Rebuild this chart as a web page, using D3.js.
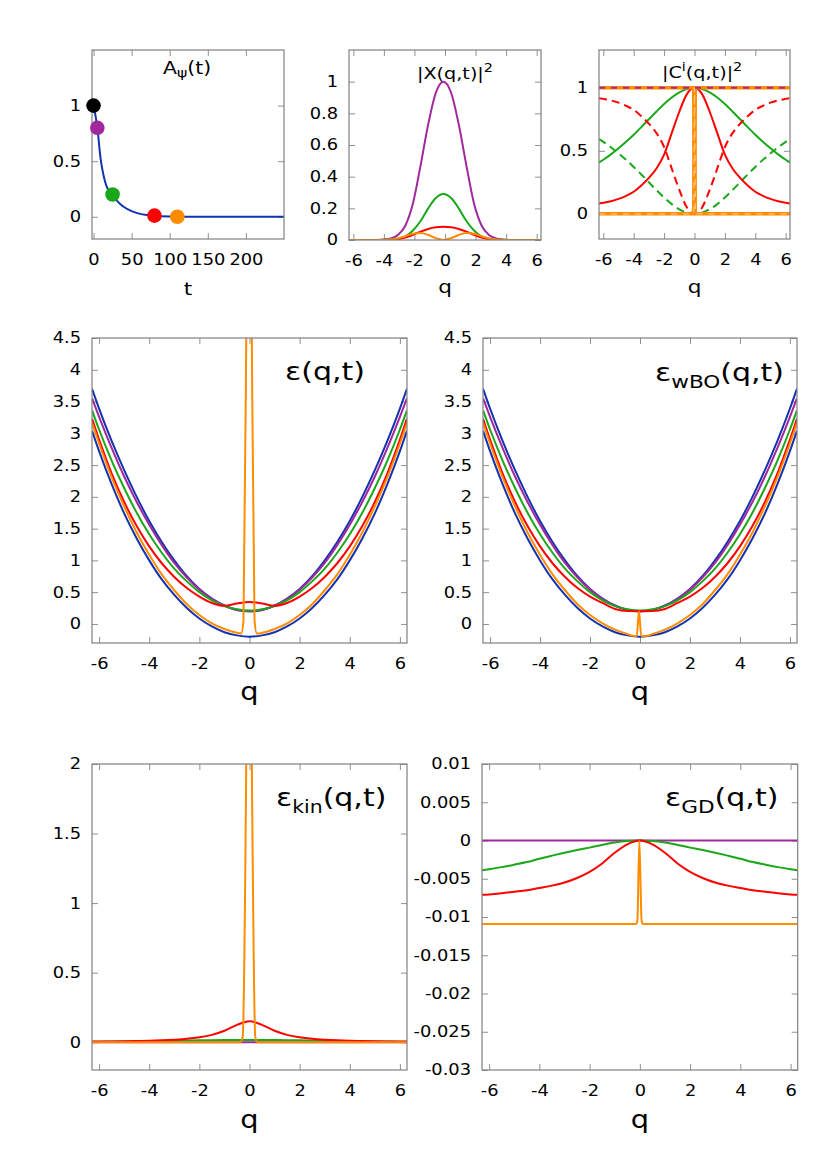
<!DOCTYPE html>
<html><head><meta charset="utf-8">
<script src="https://cdn.jsdelivr.net/npm/d3@7"></script>
<style>body{margin:0;background:#fff} text{font-family:"DejaVu Sans",sans-serif}</style>
</head><body><svg id="c" width="830" height="1153" xmlns="http://www.w3.org/2000/svg"></svg>
<script>
// ---------------- DATA ----------------
// Panel 1: A_psi(t)
const tA = [0,2,4,6,8,10,12,15,18,21,25,30,35,40,50,60,70,80,100,130,160,200,250];
const Apsi = [1,0.93,0.85,0.74,0.6,0.49,0.41,0.32,0.26,0.225,0.19,0.15,0.115,0.088,0.05,0.028,0.016,0.009,0.003,0.0005,0,0,0];
const markT = [0,5,25,80,110];
const markA = [1,0.8,0.2,0.01,0.0];
const markColors = ["black","purple","green","red","orange"];
const tTicks = [0,50,100,150,200];

// Panel 2: |X(q,t)|^2
const qX = [-6.28,-5.1,-4.6,-4.1,-3.6,-3.1,-2.6,-2.1,-1.6,-1.1,-0.6,-0.1,0.4,0.9,1.4,1.9,2.4,2.9,3.4,3.9,4.4,4.9,6.28];
const X_purple = [0,0,0.0005,0.002,0.008,0.03,0.09,0.23,0.47,0.73,0.93,1,0.93,0.73,0.47,0.23,0.09,0.03,0.008,0.002,0.0005,0,0];
const X_green  = [0,0,0,0.001,0.002,0.007,0.022,0.06,0.12,0.2,0.265,0.29,0.265,0.2,0.12,0.06,0.022,0.007,0.002,0.001,0,0,0];
const X_red    = [0,0,0,0,0.001,0.005,0.015,0.033,0.053,0.07,0.08,0.083,0.08,0.07,0.053,0.033,0.015,0.005,0.001,0,0,0,0];
const X_orange = [0,0,0,0,0.003,0.01,0.024,0.04,0.045,0.032,0.012,0,0.012,0.032,0.045,0.04,0.024,0.01,0.003,0,0,0,0];

// common q grid
const Q = [-6.28,-6,-5.5,-5,-4.5,-4,-3.5,-3,-2.5,-2,-1.5,-1,-0.5,0,0.5,1,1.5,2,2.5,3,3.5,4,4.5,5,5.5,6,6.28];

// Panel 3: |C^i(q,t)|^2
const C_greenSolid  = [0.407,0.429,0.472,0.520,0.572,0.628,0.688,0.750,0.812,0.871,0.923,0.964,0.991,1,0.991,0.964,0.923,0.871,0.812,0.750,0.688,0.628,0.572,0.520,0.472,0.429,0.407];
const C_greenDashed = [0.593,0.571,0.528,0.480,0.428,0.372,0.312,0.250,0.188,0.129,0.077,0.036,0.009,0,0.009,0.036,0.077,0.129,0.188,0.250,0.312,0.372,0.428,0.480,0.528,0.571,0.593];
const C_redSolid    = [0.082,0.088,0.1,0.118,0.143,0.175,0.225,0.285,0.36,0.47,0.64,0.81,0.95,1,0.95,0.81,0.64,0.47,0.36,0.285,0.225,0.175,0.143,0.118,0.1,0.088,0.082];
const C_redDashed   = [0.918,0.912,0.9,0.882,0.857,0.825,0.775,0.715,0.64,0.53,0.36,0.19,0.05,0,0.05,0.19,0.36,0.53,0.64,0.715,0.775,0.825,0.857,0.882,0.9,0.912,0.918];
const qC_edge = [-6.28,6.28];
const C_purpleSolid = [0,0];
const C_purpleDashed = [1,1];
const qC_orange = [-6.28,-0.05,0,0.05,6.28];
const C_orangeSolid = [1,1,0,1,1];
const C_orangeDashed = [0,0,1,0,0];

// Panel 4/5: epsilon(q,t), epsilon_wBO(q,t)
const E_blueUpper = [3.70,3.39,2.88,2.42,2.00,1.62,1.29,1.00,0.75,0.55,0.40,0.29,0.22,0.20,0.22,0.29,0.40,0.55,0.75,1.00,1.29,1.62,2.00,2.42,2.88,3.39,3.70];
const E_blueLower = [3.04,2.72,2.20,1.74,1.345,1.00,0.70,0.456,0.25,0.085,-0.04,-0.13,-0.18,-0.20,-0.18,-0.13,-0.04,0.085,0.25,0.456,0.70,1.00,1.345,1.74,2.20,2.72,3.04];
const E_purple = [3.55,3.26,2.77,2.32,1.92,1.56,1.24,0.96,0.73,0.54,0.39,0.285,0.22,0.20,0.22,0.285,0.39,0.54,0.73,0.96,1.24,1.56,1.92,2.32,2.77,3.26,3.55];
const E_green  = [3.36,3.06,2.57,2.14,1.75,1.41,1.12,0.87,0.67,0.50,0.37,0.28,0.23,0.21,0.23,0.28,0.37,0.50,0.67,0.87,1.12,1.41,1.75,2.14,2.57,3.06,3.36];
const E_red    = [3.23,2.90,2.37,1.92,1.54,1.22,0.955,0.74,0.565,0.43,0.33,0.285,0.32,0.345,0.32,0.285,0.33,0.43,0.565,0.74,0.955,1.22,1.54,1.92,2.37,2.90,3.23];
const qE_orange = [-6.28,-6,-5.5,-5,-4.5,-4,-3.5,-3,-2.5,-2,-1.5,-1,-0.5,-0.33,-0.24,-0.13,-0.02,0.093,0.2,0.29,0.5,1,1.5,2,2.5,3,3.5,4,4.5,5,5.5,6,6.28];
const E_orange = [3.16,2.84,2.31,1.85,1.44,1.09,0.78,0.53,0.31,0.14,0.01,-0.08,-0.14,-0.15,0.06,4.5,12,4.5,0.06,-0.15,-0.14,-0.08,0.01,0.14,0.31,0.53,0.78,1.09,1.44,1.85,2.31,2.84,3.16];
const W_red    = [3.23,2.90,2.37,1.92,1.54,1.22,0.955,0.74,0.565,0.43,0.33,0.235,0.202,0.20,0.202,0.235,0.33,0.43,0.565,0.74,0.955,1.22,1.54,1.92,2.37,2.90,3.23];
const qW_orange = [-6.28,-6,-5.5,-5,-4.5,-4,-3.5,-3,-2.5,-2,-1.5,-1,-0.5,-0.3,-0.13,-0.04,0.05,0.3,0.5,1,1.5,2,2.5,3,3.5,4,4.5,5,5.5,6,6.28];
const W_orange = [3.16,2.84,2.31,1.85,1.44,1.09,0.78,0.53,0.31,0.14,0.01,-0.09,-0.16,-0.185,-0.19,0.2,-0.19,-0.185,-0.16,-0.09,0.01,0.14,0.31,0.53,0.78,1.09,1.44,1.85,2.31,2.84,3.16];

// Panel 6: epsilon_kin
const K_red   = [0.0045,0.0049,0.0058,0.0069,0.0084,0.0105,0.0134,0.0179,0.0243,0.0349,0.0526,0.082,0.124,0.15,0.124,0.082,0.0526,0.0349,0.0243,0.0179,0.0134,0.0105,0.0084,0.0069,0.0058,0.0049,0.0045];
const K_green = [0.0035,0.004,0.0045,0.005,0.006,0.007,0.0085,0.01,0.0115,0.013,0.014,0.015,0.0158,0.016,0.0158,0.015,0.014,0.013,0.0115,0.01,0.0085,0.007,0.006,0.005,0.0045,0.004,0.0035];
const K_purple = [0,0];
const qK_orange = [-6.28,-0.37,-0.27,-0.13,-0.02,0.093,0.23,0.32,6.28];
const K_orange = [0,0,0.04,2.0,5,2.0,0.04,0,0];

// Panel 7: epsilon_GD
const G_purple = [0,0];
const G_green = [-0.0039,-0.00376,-0.00348,-0.00316,-0.00282,-0.00238,-0.00198,-0.0016,-0.00125,-0.00093,-0.00058,-0.00027,-0.00007,0,-0.00007,-0.00027,-0.00058,-0.00093,-0.00125,-0.0016,-0.00198,-0.00238,-0.00282,-0.00316,-0.00348,-0.00376,-0.0039];
const G_red = [-0.0071,-0.00705,-0.0069,-0.0067,-0.0065,-0.0062,-0.0059,-0.0055,-0.0049,-0.0041,-0.003,-0.0016,-0.0005,0,-0.0005,-0.0016,-0.003,-0.0041,-0.0049,-0.0055,-0.0059,-0.0062,-0.0065,-0.0067,-0.0069,-0.00705,-0.0071];
const qG_orange = [-6.28,-0.15,-0.1,-0.02,0.07,0.12,6.28];
const G_orange = [-0.0109,-0.0109,-0.0105,0,-0.0105,-0.0109,-0.0109];

// tick values
const qTicks = [-6,-4,-2,0,2,4,6];
const yT1 = [0,0.5,1];
const yT2 = [0,0.2,0.4,0.6,0.8,1];
const yT3 = [0,0.5,1];
const yT45 = [0,0.5,1,1.5,2,2.5,3,3.5,4,4.5];
const yT6 = [0,0.5,1,1.5,2];
const yT7 = [-0.03,-0.025,-0.02,-0.015,-0.01,-0.005,0,0.005,0.01];

// ---------------- DRAWING ----------------
const COL = {blue:"#1432b0", purple:"#a0289c", green:"#1aa81a", red:"#ff0000", orange:"#ff8c00", black:"#000000"};
const svg = d3.select("#c");
let cid = 0;
const fmt = d => String(d);

function stretch(sel, sx){
  sel.each(function(){
    const t = d3.select(this);
    const x = +(t.attr("x") || 0);
    t.attr("x", 0).attr("transform", `translate(${x},0) scale(${sx},1)`);
  });
}

function panel(c){
  const g = svg.append("g");
  const x = d3.scaleLinear().domain(c.xd).range([c.l, c.r]);
  const y = d3.scaleLinear().domain(c.yd).range([c.b, c.t]);
  const id = "clip" + (cid++);
  svg.append("clipPath").attr("id", id).append("rect")
    .attr("x", c.l).attr("y", c.t).attr("width", c.r - c.l).attr("height", c.b - c.t);
  const axes = [
    g.append("g").attr("transform", `translate(0,${c.b})`).call(d3.axisBottom(x).tickValues(c.xt).tickSize(-6).tickPadding(14.5).tickFormat(fmt)),
    g.append("g").attr("transform", `translate(0,${c.t})`).call(d3.axisTop(x).tickValues(c.xt).tickSize(-6).tickFormat("")),
    g.append("g").attr("transform", `translate(${c.l},0)`).call(d3.axisLeft(y).tickValues(c.yt).tickSize(-6).tickPadding(11).tickFormat(fmt)),
    g.append("g").attr("transform", `translate(${c.r},0)`).call(d3.axisRight(y).tickValues(c.yt).tickSize(-6).tickFormat(""))
  ];
  axes.forEach(a => {
    a.attr("font-family", "DejaVu Sans").attr("font-size", 15.5);
    a.select(".domain").remove();
    a.selectAll("line").attr("stroke", "#909090");
    a.selectAll("text").attr("fill", "#000");
    stretch(a.selectAll("text"), 1.15);
  });
  const pg = g.append("g").attr("clip-path", `url(#${id})`);
  const frame = () => g.append("rect").attr("x", c.l).attr("y", c.t)
    .attr("width", c.r - c.l).attr("height", c.b - c.t)
    .attr("fill", "none").attr("stroke", "#808080").attr("stroke-width", 1.2);
  const lab = g.append("text").attr("x", (c.l + c.r) / 2).attr("y", c.xlabY).attr("text-anchor", "middle")
    .attr("font-size", c.xlabSize).attr("fill", "#000").text(c.xlab);
  stretch(lab, 1.2);
  return {x, y, pg, g, frame};
}

function line(p, qs, vs, color, opt = {}){
  const data = qs.map((q, i) => [q, vs[i]]);
  const gen = d3.line().x(d => p.x(d[0])).y(d => p.y(d[1])).curve(opt.linear ? d3.curveLinear : d3.curveMonotoneX);
  p.pg.append("path").attr("d", gen(data)).attr("fill", "none")
    .attr("stroke", color).attr("stroke-width", opt.w || 2)
    .attr("stroke-dasharray", opt.dash || null)
    .attr("stroke-linejoin", "round");
}

function title(p, x, y, size, parts){
  const t = p.g.append("text").attr("x", x).attr("y", y).attr("font-size", size).attr("fill", "#000");
  parts.forEach(pt => {
    const s = t.append("tspan").text(pt.t);
    if (pt.sub) s.attr("font-size", pt.size).attr("dy", pt.dy);
    if (pt.back) s.attr("dy", pt.back);
  });
  stretch(t, 1.2);
}

// ---- Panel 1 ----
const p1 = panel({l:92, r:284, t:50, b:239, xd:[-2,250], yd:[-0.2,1.5], xt:tTicks, yt:yT1, xlab:"t", xlabY:295, xlabSize:18});
line(p1, tA, Apsi, COL.blue);
p1.frame();
markT.forEach((t, i) => {
  p1.g.append("circle").attr("cx", p1.x(t)).attr("cy", p1.y(markA[i])).attr("r", 7.3).attr("fill", COL[markColors[i]]);
});
title(p1, 163, 74, 17, [{t:"A"},{t:"ψ", sub:true, size:13, dy:3},{t:"(t)", back:-3}]);

// ---- Panel 2 ----
const p2 = panel({l:349, r:541, t:50, b:240, xd:[-6.283,6.283], yd:[0,1.2], xt:qTicks, yt:yT2, xlab:"q", xlabY:293, xlabSize:18});
line(p2, qX, X_purple, COL.purple);
line(p2, qX, X_green, COL.green);
line(p2, qX, X_red, COL.red);
line(p2, qX, X_orange, COL.orange);
p2.frame();
title(p2, 417, 79, 16, [{t:"|X(q,t)|"},{t:"2", sub:true, size:12, dy:-7}]);

// ---- Panel 3 ----
const p3 = panel({l:599, r:790, t:50, b:239, xd:[-6.283,6.283], yd:[-0.2,1.3], xt:qTicks, yt:yT3, xlab:"q", xlabY:293, xlabSize:18});
line(p3, qC_edge, C_purpleSolid, COL.purple);
line(p3, Q, C_greenSolid, COL.green);
line(p3, Q, C_greenDashed, COL.green, {dash:"8,5"});
line(p3, Q, C_redSolid, COL.red);
line(p3, Q, C_redDashed, COL.red, {dash:"8,5"});
line(p3, qC_orange, C_orangeSolid, COL.orange, {w:3.5, linear:true});
line(p3, qC_orange, C_orangeDashed, COL.orange, {w:3.5, linear:true});
line(p3, qC_orange, C_orangeDashed, "#ffc27a", {w:1.3, linear:true, dash:"6,6"});
line(p3, qC_edge, C_purpleDashed, COL.purple, {w:2, dash:"6,6"});
p3.frame();
title(p3, 662, 78, 16, [{t:"|C"},{t:"i", sub:true, size:12, dy:-7},{t:"(q,t)|", back:7},{t:"2", sub:true, size:12, dy:-7}]);

// ---- Panel 4 ----
const p4 = panel({l:92, r:407, t:338, b:643, xd:[-6.283,6.283], yd:[-0.3,4.5], xt:qTicks, yt:yT45, xlab:"q", xlabY:700, xlabSize:24});
line(p4, Q, E_blueUpper, COL.blue);
line(p4, Q, E_blueLower, COL.blue);
line(p4, Q, E_purple, COL.purple);
line(p4, Q, E_green, COL.green);
line(p4, Q, E_red, COL.red);
line(p4, qE_orange, E_orange, COL.orange);
p4.frame();
title(p4, 285, 380, 25, [{t:"ε(q,t)"}]);

// ---- Panel 5 ----
const p5 = panel({l:483, r:797, t:338, b:643, xd:[-6.283,6.283], yd:[-0.3,4.5], xt:qTicks, yt:yT45, xlab:"q", xlabY:700, xlabSize:24});
line(p5, Q, E_blueUpper, COL.blue);
line(p5, Q, E_blueLower, COL.blue);
line(p5, Q, E_purple, COL.purple);
line(p5, Q, E_green, COL.green);
line(p5, Q, W_red, COL.red);
line(p5, qW_orange, W_orange, COL.orange);
p5.frame();
title(p5, 655, 381, 25, [{t:"ε"},{t:"wBO", sub:true, size:18, dy:7},{t:"(q,t)", back:-7}]);

// ---- Panel 6 ----
const p6 = panel({l:92, r:407, t:764, b:1070, xd:[-6.283,6.283], yd:[-0.2,2], xt:qTicks, yt:yT6, xlab:"q", xlabY:1128, xlabSize:24});
line(p6, qC_edge, K_purple, COL.purple);
line(p6, Q, K_green, COL.green);
line(p6, Q, K_red, COL.red);
line(p6, qK_orange, K_orange, COL.orange);
p6.frame();
title(p6, 276, 806, 25, [{t:"ε"},{t:"kin", sub:true, size:17, dy:7},{t:"(q,t)", back:-7}]);

// ---- Panel 7 ----
const p7 = panel({l:482, r:797.7, t:764, b:1070, xd:[-6.283,6.283], yd:[-0.03,0.01], xt:qTicks, yt:yT7, xlab:"q", xlabY:1128, xlabSize:24});
line(p7, qC_edge, G_purple, COL.purple);
line(p7, Q, G_green, COL.green);
line(p7, Q, G_red, COL.red);
line(p7, qG_orange, G_orange, COL.orange);
p7.frame();
title(p7, 665, 806, 25, [{t:"ε"},{t:"GD", sub:true, size:18, dy:7},{t:"(q,t)", back:-7}]);
</script></body></html>
